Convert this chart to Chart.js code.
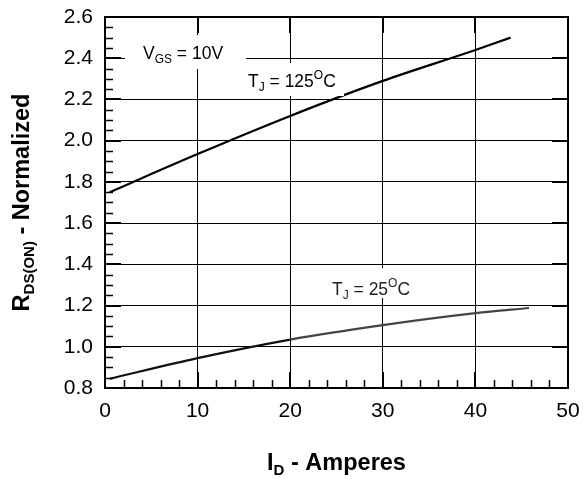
<!DOCTYPE html>
<html>
<head>
<meta charset="utf-8">
<script src="https://cdn.jsdelivr.net/npm/chart.js@4"></script>
<style>
  html, body { margin: 0; padding: 0; background: #fff; }
  #wrap { width: 583px; height: 479px; position: relative; }
</style>
</head>
<body>
<div id="wrap"><canvas id="ch-rds"></canvas></div>
<script>
'use strict';

// curve readings (I_D in A, normalized R_DS(on))
const idHot  = [0.5, 10, 20, 30, 40, 43.8];
const rdsHot = [1.75, 1.935, 2.12, 2.29, 2.44, 2.50];
const idCold  = [0.5, 10, 20, 30, 40, 45.8];
const rdsCold = [0.845, 0.945, 1.035, 1.105, 1.163, 1.188];

const xTicks = [0, 10, 20, 30, 40, 50];
const yTicks = [0.8, 1.0, 1.2, 1.4, 1.6, 1.8, 2.0, 2.2, 2.4, 2.6];

const FONT = "'Liberation Sans', Arial, sans-serif";

// draw text made of pieces (sub/superscripts)
function richText(ctx, parts, x, y, center) {
  let w = 0;
  parts.forEach(p => { ctx.font = p.f; w += ctx.measureText(p.t).width; });
  let cx = center ? x - w / 2 : x;
  ctx.textBaseline = 'alphabetic';
  ctx.textAlign = 'left';
  parts.forEach(p => {
    ctx.font = p.f;
    ctx.fillText(p.t, cx, y + (p.dy || 0));
    cx += ctx.measureText(p.t).width;
  });
}

const decor = {
  id: 'decor',
  afterDatasetsDraw(chart) {
    const ctx = chart.ctx;
    ctx.save();
    ctx.fillStyle = '#fff';
    // label backgrounds cut the grid lines
    ctx.fillRect(125, 35, 121, 34);
    ctx.fillRect(246, 63, 98, 33);
    ctx.fillRect(322, 268, 92, 30);
    ctx.fillStyle = '#000';
    const big = '17.5px ' + FONT, small = '12px ' + FONT;
    richText(ctx, [{t:'V',f:big},{t:'GS',f:small,dy:4},{t:' = 10V',f:big}], 143, 59);
    richText(ctx, [{t:'T',f:big},{t:'J',f:small,dy:4},{t:' = 125',f:big},{t:'O',f:small,dy:-8},{t:'C',f:big}], 248, 87);
    ctx.fillStyle = '#222';
    richText(ctx, [{t:'T',f:big},{t:'J',f:small,dy:4},{t:' = 25',f:big},{t:'O',f:small,dy:-8},{t:'C',f:big}], 332, 295);
    ctx.restore();
  },
  afterDraw(chart) {
    const ctx = chart.ctx, a = chart.chartArea;
    const sx = chart.scales.x, sy = chart.scales.y;
    ctx.save();
    ctx.strokeStyle = '#000';
    // frame
    ctx.lineWidth = 2;
    ctx.strokeRect(a.left, a.top, a.right - a.left, a.bottom - a.top);
    // major ticks inward on all sides
    ctx.beginPath();
    xTicks.forEach(v => {
      const px = Math.round(sx.getPixelForValue(v));
      ctx.moveTo(px, a.bottom); ctx.lineTo(px, a.bottom - 16);
      ctx.moveTo(px, a.top); ctx.lineTo(px, a.top + 16);
    });
    yTicks.forEach(v => {
      const py = Math.round(sy.getPixelForValue(v));
      ctx.moveTo(a.left, py); ctx.lineTo(a.left + 16, py);
      ctx.moveTo(a.right, py); ctx.lineTo(a.right - 16, py);
    });
    ctx.stroke();
    // minor ticks, bottom and left
    ctx.lineWidth = 1.5;
    ctx.beginPath();
    for (let v = 2; v < 50; v += 2) {
      if (v % 10 === 0) continue;
      const px = Math.round(sx.getPixelForValue(v)) + 0.5;
      ctx.moveTo(px, a.bottom); ctx.lineTo(px, a.bottom - 8);
    }
    for (let i = 1; i < 36; i++) {
      if (i % 4 === 0) continue;
      const py = Math.round(sy.getPixelForValue(0.8 + i * 0.05)) + 0.5;
      ctx.moveTo(a.left, py); ctx.lineTo(a.left + 8, py);
    }
    ctx.stroke();
    // axis titles
    ctx.fillStyle = '#000';
    const tb = 'bold 23.5px ' + FONT, ts = 'bold 15px ' + FONT;
    richText(ctx, [{t:'I',f:tb},{t:'D',f:ts,dy:5},{t:' - Amperes',f:tb}], (a.left + a.right) / 2, 470, true);
    ctx.translate(29, (a.top + a.bottom) / 2);
    ctx.rotate(-Math.PI / 2);
    richText(ctx, [{t:'R',f:tb},{t:'DS(ON)',f:ts,dy:5},{t:' - Normalized',f:tb}], 0, 0, true);
    ctx.restore();
  }
};

new Chart(document.getElementById('ch-rds'), {
  type: 'scatter',
  data: {
    datasets: [
      { label: 'TJ = 125C', data: idHot.map((x, i) => ({x, y: rdsHot[i]})),
        showLine: true, borderColor: '#000', borderWidth: 2.2, pointRadius: 0,
        cubicInterpolationMode: 'monotone' },
      { label: 'TJ = 25C', data: idCold.map((x, i) => ({x, y: rdsCold[i]})),
        showLine: true, borderColor: '#111', borderWidth: 2.2, pointRadius: 0,
        cubicInterpolationMode: 'monotone',
        segment: { borderColor: c => c.p0.parsed.x >= 17 ? '#444' : '#111' } }
    ]
  },
  options: {
    responsive: true, maintainAspectRatio: false, animation: false,
    layout: { padding: { top: 17, right: 15, left: 0, bottom: 0 } },
    plugins: { legend: { display: false }, tooltip: { enabled: false } },
    scales: {
      x: {
        type: 'linear', min: 0, max: 50,
        afterBuildTicks: s => { s.ticks = xTicks.map(v => ({value: v})); },
        afterFit: s => { s.height = 91; s.paddingLeft = 0; s.paddingRight = 0; },
        ticks: { color: '#000', font: { family: FONT, size: 21 }, padding: 11 },
        grid: { color: '#000', lineWidth: 1, drawTicks: false },
        border: { display: true, color: '#000', width: 2 }
      },
      y: {
        min: 0.8, max: 2.6,
        afterBuildTicks: s => { s.ticks = yTicks.map(v => ({value: v})); },
        afterFit: s => { s.width = 105; s.paddingTop = 0; s.paddingBottom = 0; },
        ticks: { color: '#000', font: { family: FONT, size: 21 }, padding: 12,
                 callback: v => v.toFixed(1) },
        grid: { color: '#000', lineWidth: 1, drawTicks: false },
        border: { display: true, color: '#000', width: 2 }
      }
    }
  },
  plugins: [decor]
});
</script>
</body>
</html>
